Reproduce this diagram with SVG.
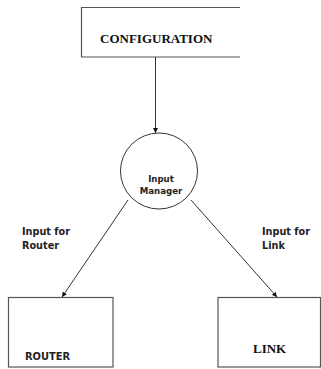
<svg xmlns="http://www.w3.org/2000/svg" width="321" height="369" viewBox="0 0 321 369">
<style>
.box{fill:none;stroke:#555;stroke-width:1.2}
.edge{fill:none;stroke:#333;stroke-width:1}
.serif{font-family:"Liberation Serif","Times New Roman",serif;font-weight:bold;fill:#111}
.sans{font-family:"DejaVu Sans",sans-serif;font-weight:bold;fill:#222}
</style>
<defs>
<marker id="arr" viewBox="0 0 10 10" refX="10" refY="5" markerWidth="5" markerHeight="5" orient="auto" markerUnits="userSpaceOnUse">
<path d="M0,0 L10,5 L0,10 Z" fill="#111"/>
</marker>
</defs>
<rect width="321" height="369" fill="#fff"/>
<g id="configuration">
<path class="box" d="M240,7.5 H81.5 V57 H240"/>
<text class="serif" x="100" y="43" font-size="13">CONFIGURATION</text>
</g>
<g id="input-manager">
<ellipse class="edge" cx="159" cy="171" rx="38.5" ry="38"/>
<text class="sans" x="161" y="181.5" font-size="8.6" text-anchor="middle">Input</text>
<text class="sans" x="161" y="193.5" font-size="8.6" text-anchor="middle">Manager</text>
</g>
<g id="router">
<rect class="box" x="8.5" y="297.5" width="104.5" height="69.5"/>
<text class="sans" x="25" y="359.5" font-size="9.9">ROUTER</text>
</g>
<g id="link">
<rect class="box" x="218" y="297.5" width="102.5" height="69.5"/>
<text class="serif" x="253" y="353" font-size="13">LINK</text>
</g>
<g id="connectors">
<line class="edge" x1="155.5" y1="57" x2="155.5" y2="133" marker-end="url(#arr)"/>
<line class="edge" x1="128" y1="200" x2="62" y2="297" marker-end="url(#arr)"/>
<line class="edge" x1="191" y1="200" x2="277" y2="297" marker-end="url(#arr)"/>
</g>
<g id="labels">
<text class="sans" x="22" y="234.5" font-size="9.7">Input for</text>
<text class="sans" x="22" y="248.5" font-size="9.7">Router</text>
<text class="sans" x="262" y="235" font-size="9.7">Input for</text>
<text class="sans" x="262" y="249" font-size="9.7">Link</text>
</g>
</svg>
